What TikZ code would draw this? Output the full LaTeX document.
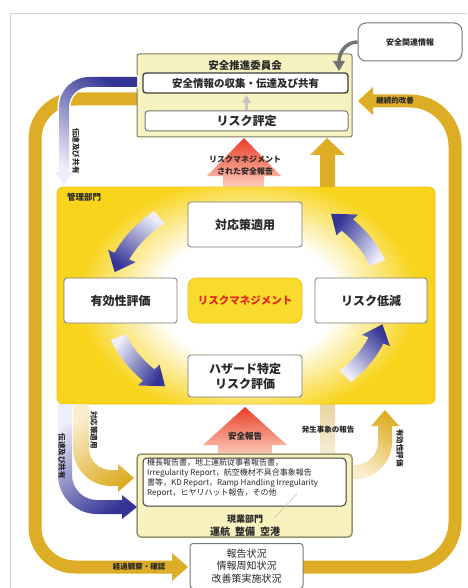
\documentclass[tikz,border=0pt]{standalone}
\usepackage{fontspec}
\setmainfont{Noto Sans CJK JP}
\usetikzlibrary{calc}
\definecolor{gold}{RGB}{221,173,38}
\definecolor{goldL}{RGB}{250,238,205}
\definecolor{blueD}{RGB}{52,52,150}
\definecolor{blueL}{RGB}{238,238,250}
\definecolor{redD}{RGB}{233,62,38}
\definecolor{redL}{RGB}{252,208,190}
\definecolor{mgY}{RGB}{248,212,28}
\definecolor{mgB}{RGB}{232,192,20}
\definecolor{scY}{RGB}{247,243,192}
\definecolor{scB}{RGB}{125,125,95}
\definecolor{repY}{RGB}{248,243,190}
\definecolor{repB}{RGB}{150,150,110}
\definecolor{boxgray}{RGB}{120,120,120}
\definecolor{darkc}{RGB}{60,60,60}
\definecolor{framec}{RGB}{205,210,220}
\definecolor{txt}{RGB}{40,40,40}
\definecolor{beige}{RGB}{232,210,160}
\definecolor{beigeL}{RGB}{246,238,215}
\definecolor{grayA}{RGB}{115,115,115}
\definecolor{rmred}{RGB}{225,35,25}
\definecolor{rmY}{RGB}{250,218,45}
\pgfdeclareradialshading{glow}{\pgfpoint{0bp}{0bp}}{color(0bp)=(white); color(13bp)=(white); color(25bp)=(mgY); color(50bp)=(mgY)}

\newcommand{\arcarrow}[3]{%
  \pgfmathsetmacro{\ab}{#2+9}%
  \pgfmathsetmacro{\xa}{248+146*cos(#1)}%
  \pgfmathsetmacro{\ya}{300+116*sin(#1)}%
  \pgfmathsetmacro{\xb}{248+153*cos(\ab)}%
  \pgfmathsetmacro{\yb}{300+123*sin(\ab)}%
  \pgfmathsetmacro{\xt}{248+138*cos(#2)}%
  \pgfmathsetmacro{\yt}{300+108*sin(#2)}%
  \pgfmathsetmacro{\xc}{248+123*cos(\ab)}%
  \pgfmathsetmacro{\yc}{300+93*sin(\ab)}%
  \pgfmathsetmacro{\xd}{248+130*cos(\ab)}%
  \pgfmathsetmacro{\yd}{300+100*sin(\ab)}%
  \shade[top color=blueL, bottom color=blueD, shading angle=#3]
    (\xa,\ya) arc[start angle=#1, end angle=\ab, x radius=146, y radius=116]
    -- (\xb,\yb) -- (\xt,\yt) -- (\xc,\yc) -- (\xd,\yd)
    arc[start angle=\ab, end angle=#1, x radius=130, y radius=100] -- cycle;
}

\begin{document}
\begin{tikzpicture}[x=1pt, y=-1pt,
  band/.style={draw=gold, line width=13pt},
  wbox/.style={draw=boxgray, fill=white, rounded corners=3pt, line width=0.8pt, inner sep=0pt, text=txt, font=\fontsize{12}{15}\selectfont\bfseries},
  lbl/.style={text=txt, inner sep=0pt, font=\fontsize{7.5}{9}\selectfont\bfseries},
  vlbl/.style={lbl, rotate=-90},
]
\useasboundingbox (0,0) rectangle (467,588);
\fill[white] (0,0) rectangle (467,588);
\draw[framec, line width=0.8pt] (10,588) -- (10,13) -- (467,13);

% continuous improvement loop
\draw[band, rounded corners=40pt] (137,99) -- (35,99) -- (35,567) -- (173,567);
\fill[gold] (172,553) -- (188,567) -- (172,581) -- cycle;
\draw[band, rounded corners=45pt] (303,567) -- (455,567) -- (455,101) -- (373,101);
\fill[gold] (373,87) -- (358,101) -- (373,115) -- cycle;
\node[lbl] (kaizen) at (395,101) {継続的改善};
\node[lbl] (keika) at (139,567) {経過観察・確認};

% top committee box
\node[draw=scB, fill=scY, line width=1pt, rounded corners=2pt, minimum width=215pt, minimum height=83pt, inner sep=0pt] (sc) at (244.5,95.5) {};
\node[text=txt, inner sep=0pt, font=\fontsize{10.5}{12}\selectfont\bfseries] (sctitle) at (245,65) {安全推進委員会};
\node[draw=darkc, line width=1.3pt, fill=white, rounded corners=3pt, minimum width=205pt, minimum height=20pt, inner sep=0pt, text=txt, font=\fontsize{10.5}{12}\selectfont\bfseries] (collect) at (245.5,83) {安全情報の収集・伝達及び共有};
\node[draw=boxgray, line width=1pt, fill=white, rounded corners=3pt, minimum width=203pt, minimum height=20pt, inner sep=0pt, text=txt, font=\fontsize{12}{14}\selectfont\bfseries] (assess) at (246.5,121) {リスク評定};
\draw[gray!45, line width=2.5pt] (assess.north) -- (246.5,102);
\fill[gray!45] (242,103) -- (246.5,95) -- (251,103) -- cycle;

% safety-related info
\node[draw=boxgray, line width=1pt, fill=white, rounded corners=8pt, minimum width=104pt, minimum height=38pt, inner sep=0pt, text=txt, font=\fontsize{8}{10}\selectfont\bfseries] (info) at (410,42) {安全関連情報};
\coordinate (infoin) at (339,62);
\draw[grayA, line width=3.5pt] (info.west) to[out=180, in=90] (infoin);
\fill[grayA] (333,61) -- (339,71) -- (345,61) -- cycle;

% top-left blue arrow (communication & sharing)
\shade[preaction={draw=white, line width=3pt}, top color=blueD, bottom color=blueL, shading angle=-37]
  (137,77) -- (89,77) arc[start angle=270, end angle=180, radius=30] -- (59,172) -- (55,172) -- (64,185) -- (73,172) -- (69,172) -- (69,107) arc[start angle=180, end angle=270, radius=20] -- (137,87) -- cycle;
\node[vlbl] (dentatsu1) at (76,151) {伝達及び共有};

% upward arrows into committee
\shade[top color=redD, bottom color=redL] (223,188) -- (223,176) -- (207,176) -- (244,138) -- (281,176) -- (264,176) -- (264,188) -- cycle;
\node[text=txt, inner sep=0pt, align=center, font=\fontsize{8}{12}\selectfont\bfseries] (rmreport) at (245,166) {リスクマネジメント\\された安全報告};
\fill[gold] (320,188) -- (320,155) -- (310,155) -- (327,138) -- (345,155) -- (335,155) -- (335,188) -- cycle;

% management department
\shade[top color=beige, bottom color=beigeL] (320,400) rectangle (335,456);
\node[fill=mgY, draw=mgB, line width=0.6pt, rounded corners=6pt, minimum width=378pt, minimum height=217pt, inner sep=0pt] (mg) at (246,295.5) {};
\begin{scope}
  \clip[rounded corners=6pt] (57,187) rectangle (435,404);
  \shade[shading=glow] (248,298) ellipse [x radius=170, y radius=120];
\end{scope}
\node[anchor=west, text=txt, inner sep=0pt, font=\fontsize{8.5}{10}\selectfont\bfseries] (mglbl) at (67,197) {管理部門};

\arcarrow{230}{195}{-36}
\arcarrow{160}{127}{57}
\arcarrow{45}{13}{136}
\arcarrow{340}{307}{-124}

\node[wbox, minimum width=114pt, minimum height=45pt] (taio) at (245,224.5) {対応策適用};
\node[wbox, minimum width=113pt, minimum height=45pt] (yuko) at (120.5,300.5) {有効性評価};
\node[draw=mgB, fill=rmY, rounded corners=8pt, line width=0.6pt, minimum width=114pt, minimum height=45pt, inner sep=0pt, text=rmred, font=\fontsize{10.5}{12}\selectfont\bfseries] (rm) at (245,300.5) {リスクマネジメント};
\node[wbox, minimum width=112pt, minimum height=45pt] (teigen) at (371,300.5) {リスク低減};
\node[wbox, minimum width=114pt, minimum height=42pt, align=center] (hazard) at (245,376) {ハザード特定\\リスク評価};

% lower-left arrows
\shade[top color=goldL, bottom color=gold, shading angle=35]
  (73,404) -- (73,448) arc[start angle=180, end angle=90, radius=38] -- (118,486) -- (118,492) -- (134,478) -- (118,464) -- (118,470) -- (111,470) arc[start angle=90, end angle=180, radius=22] -- (89,404) -- cycle;
\shade[top color=blueL, bottom color=blueD, shading angle=34]
  (58,404) -- (58,475) arc[start angle=180, end angle=90, radius=39] -- (122,514) -- (122,519) -- (137,507) -- (122,495) -- (122,500) -- (97,500) arc[start angle=90, end angle=180, radius=25] -- (72,404) -- cycle;
\node[vlbl] (taio2) at (94,430) {対応策適用};
\node[vlbl] (dentatsu2) at (62,456) {伝達及び共有};

% lower-right arrow
\shade[top color=goldL, bottom color=gold, shading angle=152]
  (350,479) -- (355,479) arc[start angle=90, end angle=0, radius=37] -- (392,426) -- (399,426) -- (385,410) -- (371,426) -- (378,426) -- (378,442) arc[start angle=0, end angle=90, radius=23] -- (350,465) -- cycle;
\node[vlbl] (yuko2) at (400,448) {有効性評価};
\node[lbl] (hassei) at (328,430) {発生事象の報告};

% safety report arrow
\shade[top color=redD, bottom color=redL] (218,456) -- (218,445) -- (203,445) -- (245,407) -- (287,445) -- (272,445) -- (272,456) -- cycle;
\node[text=txt, inner sep=0pt, font=\fontsize{8.5}{10}\selectfont\bfseries] (anzen) at (245,436) {安全報告};

% operating departments
\node[draw=repB, line width=1.5pt, fill=repY, rounded corners=4pt, minimum width=215pt, minimum height=83pt, inner sep=0pt] (gen) at (244.5,495.5) {};
\node[draw=darkc, line width=1pt, fill=white, rounded corners=4pt, minimum width=203pt, minimum height=48pt, inner sep=0pt] (reps) at (244.5,482) {};
\node[anchor=north west, align=left, inner sep=0pt, text=txt, font=\fontsize{8}{10}\selectfont] (repstext) at (147,458.5) {機長報告書，地上運航従事者報告書，\\Irregularity Report，航空機材不具合事象報告\\書等，KD Report，Ramp Handling Irregularity\\Report，ヒヤリハット報告，その他};
\draw[gray!60, line width=0.4pt] (297,494) -- (274,518);
\node[text=txt, inner sep=0pt, font=\fontsize{9}{11}\selectfont\bfseries] (genlbl) at (245,519) {現業部門};
\node[text=txt, inner sep=0pt, font=\fontsize{10}{12}\selectfont\bfseries] (genlist) at (245,532) {運航\hspace{5pt}整備\hspace{5pt}空港};

% status box
\node[draw=boxgray, line width=1pt, fill=white, rounded corners=3pt, minimum width=113pt, minimum height=45pt, inner sep=0pt, align=center, text=txt, font=\fontsize{10}{12.5}\selectfont] (status) at (246.5,566) {報告状況\\情報周知状況\\改善策実施状況};
\end{tikzpicture}
\end{document}
